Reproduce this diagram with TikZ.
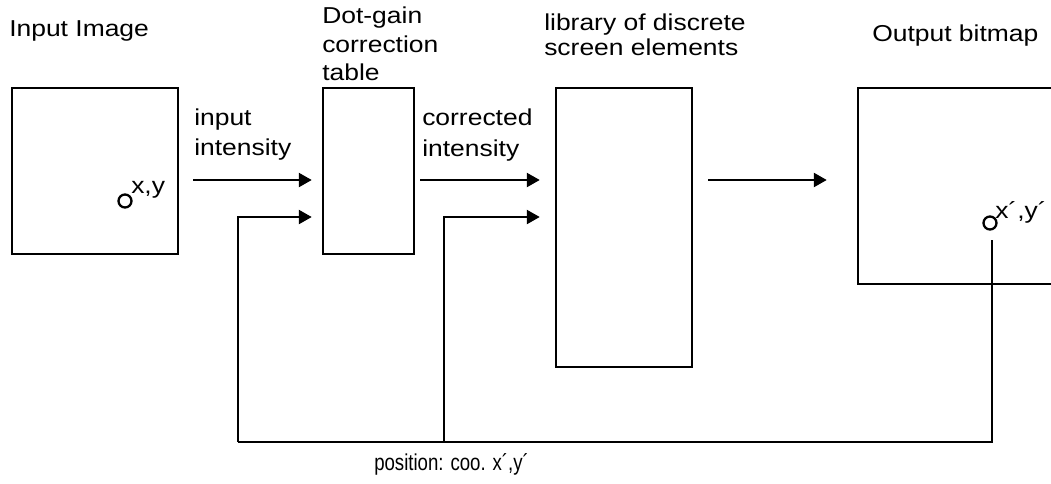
\documentclass[tikz,border=0pt]{standalone}
\usepackage{fontspec}
\usetikzlibrary{arrows.meta}
\newfontfamily\lblfont[FakeStretch=1.15]{Liberation Sans}
\newfontfamily\narrowfont[FakeStretch=0.81]{Liberation Sans}
\begin{document}
\begin{tikzpicture}[x=1pt,y=-1pt,
  line width=2.5pt,
  box/.style={draw, rectangle, inner sep=0pt, line width=2.5pt},
  spot/.style={draw, circle, minimum size=13pt, inner sep=0pt, line width=2.3pt},
  lbl/.style={inner sep=0pt, anchor=base west, font=\lblfont\fontsize{23}{27}\selectfont},
  note/.style={inner sep=0pt, anchor=base west, font=\narrowfont\fontsize{23}{27}\selectfont},
  arr/.style={-{Triangle[length=13pt,width=14pt]}, line width=2.5pt},
  feed/.style={line width=2.5pt}]
\useasboundingbox (0,0) rectangle (1051,483);

% processing stages
\node[box, minimum width=166pt, minimum height=166pt] (img) at (95,171) {};
\node[box, minimum width=91pt,  minimum height=166pt] (dot) at (368.5,171) {};
\node[box, minimum width=136pt, minimum height=279pt] (lib) at (624,227.5) {};
\node[box, minimum width=212pt, minimum height=196pt] (out) at (964,186) {};

% sample points
\node[spot] (pin) at (125,201) {};
\node[spot] (pout) at (990,223) {};

% titles
\node[lbl] (tin) at (8,36) {Input Image};
\node[lbl] (tdot1) at (321,23) {Dot-gain};
\node[lbl] (tdot2) at (321,52) {correction};
\node[lbl] (tdot3) at (321,80) {table};
\node[lbl] (tlib1) at (543,30) {library of discrete};
\node[lbl] (tlib2) at (543,55) {screen elements};
\node[lbl] (tout) at (871,41) {Output bitmap};

% arrow labels
\node[lbl] (ain1) at (193,125) {input};
\node[lbl] (ain2) at (193,155) {intensity};
\node[lbl] (acor1) at (421,125) {corrected};
\node[lbl] (acor2) at (421,156) {intensity};
\node[lbl] (lxy) at (130,193) {x,y};
\node[lbl] (lxyp) at (994,218) {x´,y´};
\node[note] (lpos) at (373,470) {position: coo. x´,y´};

% data flow
\coordinate (r1) at (0,180);
\coordinate (r2) at (0,217);
\draw[arr, shorten <=14pt, shorten >=10pt] (img.east |- r1) -- (dot.west |- r1);
\draw[arr, shorten <=5pt, shorten >=15pt] (dot.east |- r1) -- (lib.west |- r1);
\draw[arr, shorten <=15pt, shorten >=30pt] (lib.east |- r1) -- (out.west |- r1);

% position feedback
\coordinate (fbtop) at (992,240);
\coordinate (fbcorner) at (992,442);
\coordinate (fbleft) at (238,442);
\coordinate (fbmid) at (444,442);
\draw[feed] (fbtop) -- (fbcorner) -- (fbleft);
\draw[arr, shorten >=10pt] (fbleft) |- (dot.west |- r2);
\draw[arr, shorten >=15pt] (fbmid) |- (lib.west |- r2);
\end{tikzpicture}
\end{document}
